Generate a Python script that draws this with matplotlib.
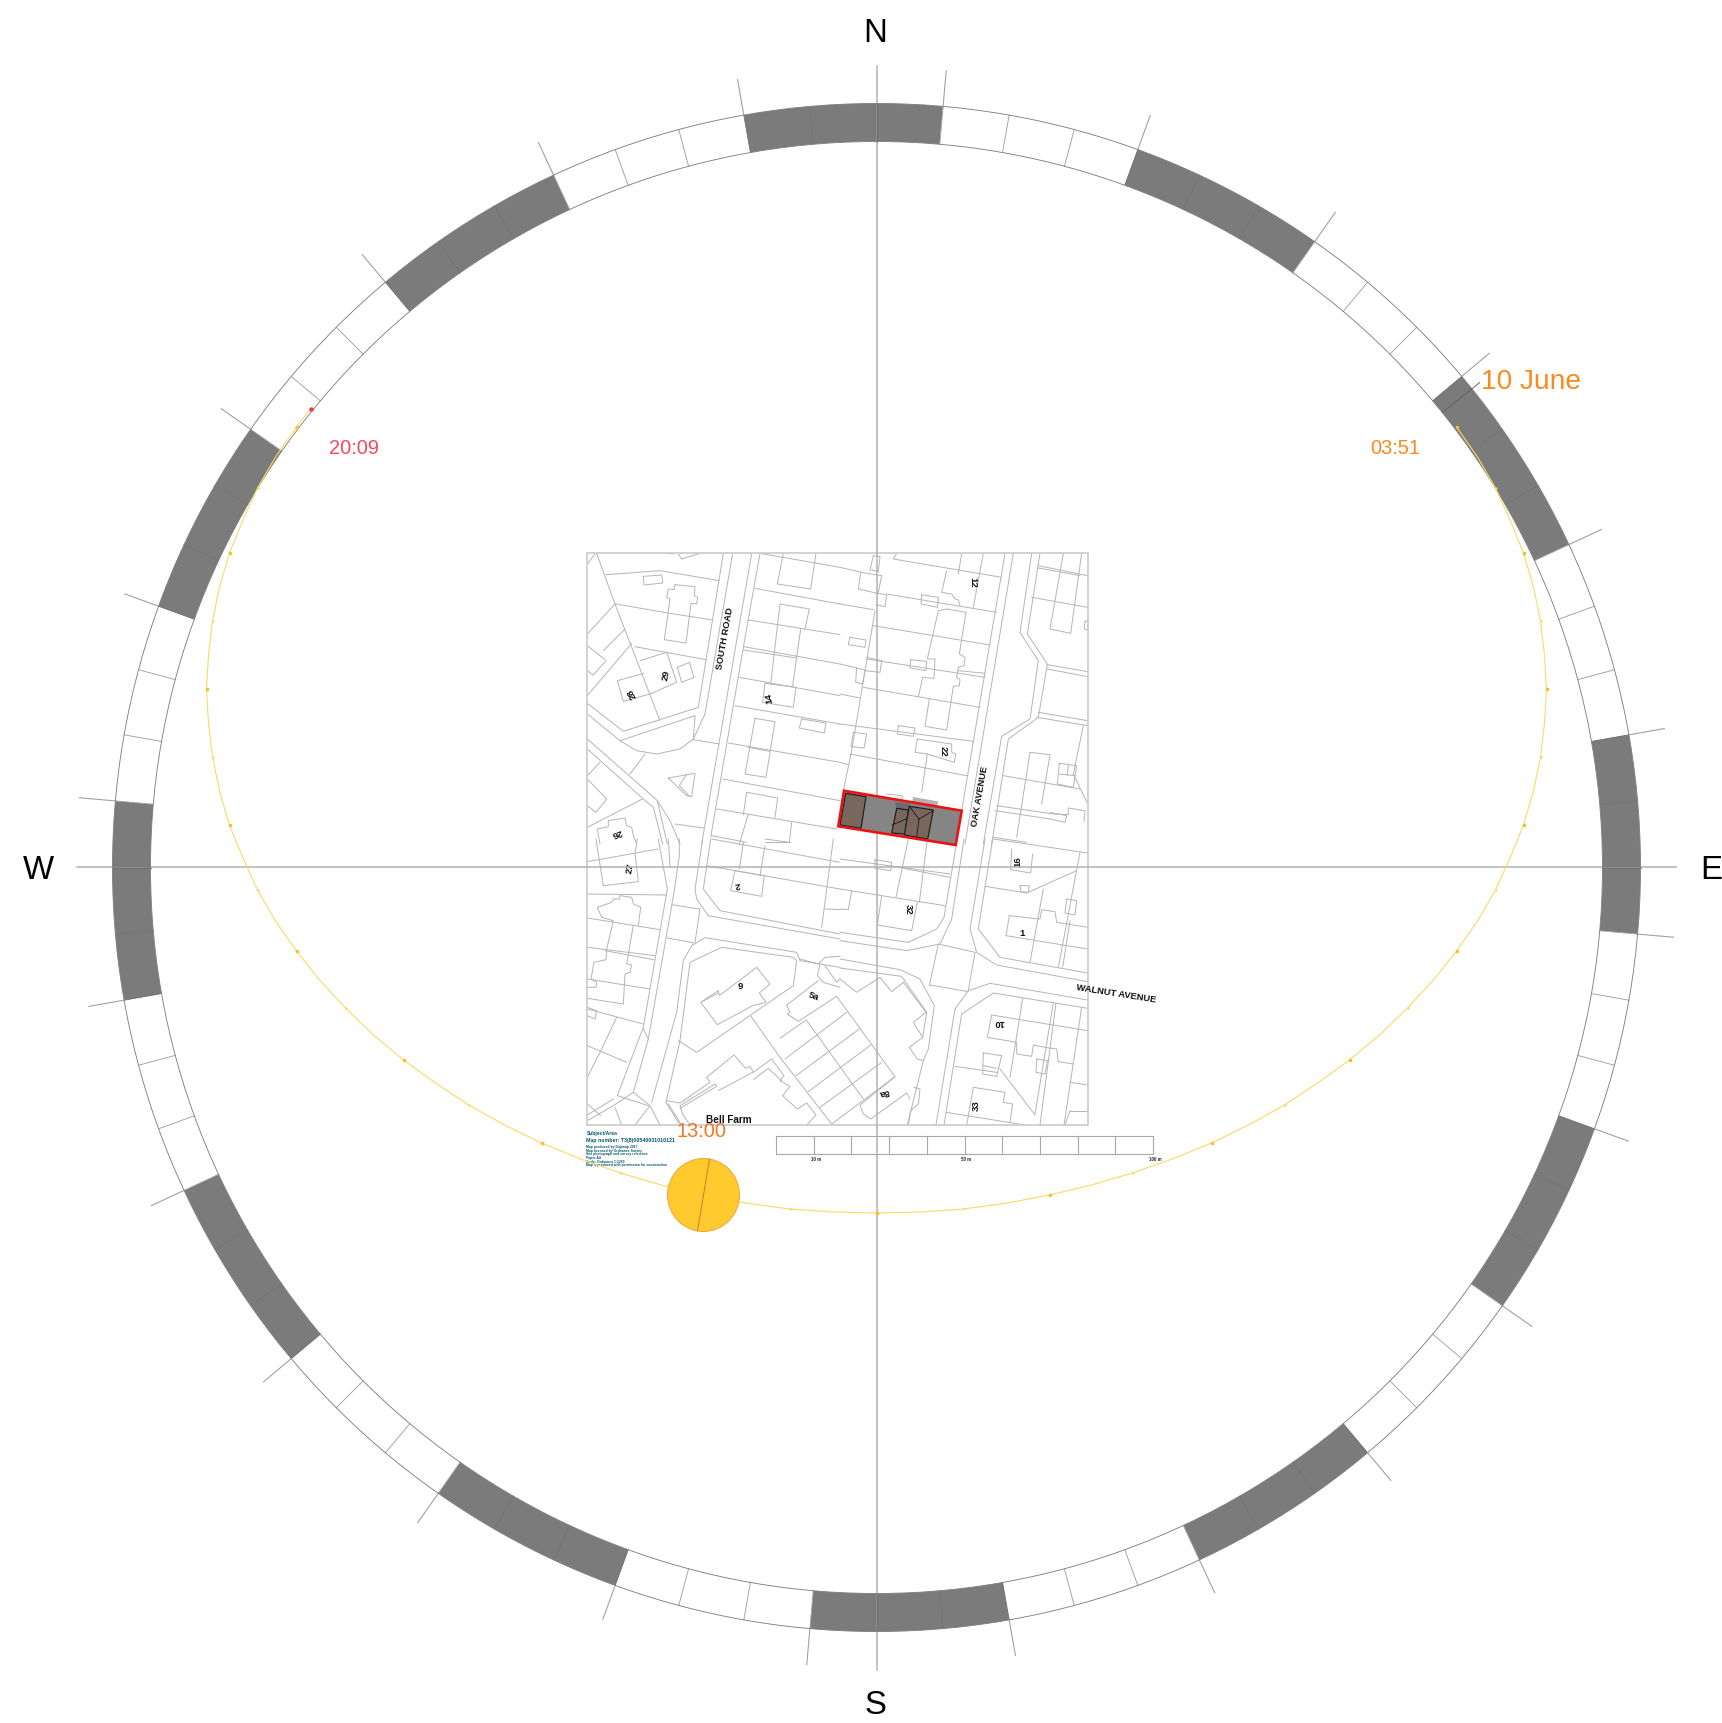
import matplotlib
matplotlib.use("Agg")
import numpy as np
import matplotlib.pyplot as plt
from matplotlib.patches import Wedge, Polygon, Ellipse, Rectangle
from matplotlib.collections import LineCollection

plt.rcParams['font.family'] = ['Liberation Sans', 'DejaVu Sans']

# ---- compass ring ----
ring_starts = [-10, 5, 20, 35, 50, 65, 80, 95, 110, 125, 140, 155, 170, 185, 200, 215,
               230, 245, 260, 275, 290, 305, 320, 335]
ring_dark = [1, 0, 1, 0, 1, 0, 1, 0, 1, 0, 1, 0, 1, 0, 1, 0, 1, 0, 1, 0, 1, 0, 1, 0]
ring_span = 15
ring_step = 5
compass_labels = ['N', 'E', 'S', 'W']

# ---- sun path: east / south offsets from the path centre, quarter-hour readings ----
sun_east = [580, 601, 619, 634, 647, 657, 664, 668, 670, 668, 664, 657, 647, 634, 619, 601,
            580, 557, 531, 503, 473, 441, 408, 372, 335, 296, 256, 215, 173, 131, 87, 44, 0,
            -44, -87, -131, -173, -215, -256, -296, -335, -372, -408, -441, -473, -503, -531, -557,
            -580, -601, -619, -634, -647, -657, -664, -668, -670, -668, -664, -657, -647, -634,
            -619, -601, -580, -566]
sun_south = [-262, -232, -201, -168, -136, -102, -68, -34, 0, 34, 68, 102, 136, 168, 201, 232,
             262, 291, 319, 346, 371, 394, 416, 436, 454, 470, 484, 496, 506, 514, 520, 523, 524,
             523, 520, 514, 506, 496, 484, 470, 454, 436, 416, 394, 371, 346, 319, 291,
             262, 232, 201, 168, 136, 102, 68, 34, 0, -34, -68, -102, -136, -168,
             -201, -232, -262, -280]
sun_now_index = 36
date_label = '10 June'
sunrise_label = '03:51'
sunset_label = '20:09'
now_label = '13:00'

# ---- site plan linework, traced (units: thirds of a pixel from each sheet's corner) ----
MAP_NW = [
 [(50,28),(105,180),(240,530)], [(22,60),(45,30)], [(78,92),(240,80),(418,110)],
 [(190,97),(245,93),(248,117),(192,123),(190,97)],
 [(285,122),(345,128),(343,155),(353,160),(350,180),(333,178),(318,297),(253,287),(270,165),(260,160),(265,135),(282,137),(285,122)],
 [(108,180),(270,208),(398,228)], [(22,270),(105,180)], [(22,305),(75,347)],
 [(70,320),(135,255)], [(22,380),(40,393),(78,350)], [(22,455),(155,298)],
 [(165,308),(378,347)], [(180,350),(260,325),(290,415),(210,450),(130,472),(112,410),(192,388)],
 [(292,370),(328,355),(342,400),(305,415),(292,370)],
 [(430,28),(355,490),(130,562),(22,478)],
 [(458,28),(375,510),(340,585),(300,615),(230,630),(170,620),(120,590),(345,515),(340,585)],
 [(22,510),(120,590)], [(340,587),(418,600)],
 [(515,28),(365,900)], [(540,28),(490,310),(392,880)],
 [(22,585),(210,750),(232,770),(270,830),(300,900)], [(22,615),(190,765),(220,790),(248,900)],
 [(232,770),(262,900)], [(150,690),(195,630)], [(22,695),(60,655)],
 [(22,705),(80,765),(48,805),(22,785)], [(22,850),(187,765)],
 [(265,702),(345,688),(335,758),(320,755),(265,702)], [(298,725),(320,690)], [(298,725),(330,758)],
 [(540,28),(780,70)], [(610,28),(592,120),(692,135),(708,28)], [(525,133),(780,180)],
 [(600,180),(688,195),(675,255)], [(600,180),(572,420)], [(662,255),(638,425)],
 [(505,228),(600,243),(780,272)], [(492,308),(780,360)], [(490,318),(650,342)],
 [(478,400),(780,455)], [(555,418),(648,430),(640,490),(548,475),(555,418)],
 [(465,485),(780,540)], [(665,525),(738,537),(733,567),(658,552),(665,525)],
 [(525,523),(585,533),(558,700),(495,690),(525,523)], [(505,610),(570,622)],
 [(445,597),(780,655)], [(428,705),(780,770)],
 [(500,745),(593,762),(585,820)], [(500,745),(490,812)], [(410,795),(770,855)],
 [(505,810),(478,900)], [(635,835),(628,895),(555,885)], [(395,875),(500,895)],
 [(285,840),(372,852)],
 [(52,855),(85,848),(85,830),(135,822),(140,845),(155,850),(160,875),(170,900)], [(52,855),(60,900)],
 [(295,30),(305,45),(360,28)], [(258,28),(280,30)],
]
MAP_NE = [
 [(170,28),(160,45),(485,100)], [(100,35),(120,38),(115,82),(90,78),(100,35)],
 [(62,85),(125,95),(115,145)], [(62,85),(55,135),(112,148)], [(0,70),(65,85)],
 [(112,148),(140,152),(135,188),(108,182)], [(0,180),(100,197)], [(140,150),(470,205)],
 [(245,152),(295,160),(293,190),(243,180),(245,152)], [(365,28),(355,90)], [(430,28),(400,190)],
 [(320,80),(305,145),(335,150),(345,165),(355,168),(360,185)],
 [(295,200),(262,345),(285,345),(282,403),(248,400),(235,458)], [(295,200),(320,195),(378,205)],
 [(378,205),(358,330),(375,340),(372,365),(355,370),(350,400),(360,407),(358,425),(340,427),(320,558),(255,547),(268,465)],
 [(100,245),(450,303)], [(30,280),(78,288),(75,310),(25,302),(30,280)],
 [(80,345),(435,400)], [(80,340),(125,350),(120,385),(75,380)], [(355,380),(435,388)], [(0,360),(50,372)],
 [(50,372),(75,378),(68,420),(47,415),(50,372)], [(212,347),(260,352),(258,380),(210,372),(212,347)],
 [(70,430),(420,490)], [(0,450),(60,462)], [(0,540),(400,592)],
 [(175,545),(225,552),(220,577),(172,570),(175,545)],
 [(232,585),(335,600),(335,625),(347,630),(343,655),(262,630),(225,625),(232,585)], [(262,630),(245,745)],
 [(40,565),(80,570),(72,612),(33,608),(40,565)], [(30,630),(380,695)], [(0,655),(25,662)],
 [(105,200),(35,620),(10,740)],
 [(495,28),(365,800)], [(520,28),(375,900)],
 [(575,28),(540,265),(595,350),(570,525),(485,577),(430,900)],
 [(600,28),(562,270),(622,360),(595,520),(505,585),(455,900)],
 [(595,65),(743,95)], [(595,72),(720,95)], [(670,28),(630,255),(692,268),(725,28)],
 [(575,160),(743,190)], [(735,232),(743,230),(743,258),(733,255),(735,232)],
 [(622,362),(743,383)], [(622,375),(743,398)], [(595,505),(743,530)], [(590,520),(743,545)],
 [(730,545),(700,690),(743,780)], [(490,695),(720,735)],
 [(570,625),(630,632),(605,780)], [(570,625),(530,880)],
 [(658,658),(710,665),(700,730),(652,720),(658,658)], [(685,660),(682,695)], [(658,690),(705,695)],
 [(470,785),(640,810),(685,812),(685,792),(735,800),(732,832)], [(465,800),(630,825)],
 [(630,805),(680,815),(675,835),(630,825)], [(460,880),(560,895)], [(140,750),(185,755),(188,765)],
]
MAP_SW = [
 [(235,0),(262,150),(190,565),(112,770),(205,800)], [(265,0),(270,85)],
 [(298,0),(298,50),(282,160),(205,600),(160,760),(100,800),(22,845)], [(190,570),(205,600)],
 [(22,828),(100,780)],
 [(368,0),(345,150),(350,180),(385,230),(780,300)], [(392,0),(370,150),(420,215),(780,285)],
 [(360,210),(345,310)], [(275,197),(358,210)], [(262,297),(343,312)],
 [(215,790),(290,520),(310,365),(335,320),(375,296),(650,340),(660,365),(780,385)],
 [(258,790),(300,605),(330,370),(425,325),(640,355),(650,365),(640,440),(350,640),(295,605)],
 [(240,858),(210,800)],
 [(48,0),(70,140),(175,128),(165,45),(172,0)], [(22,68),(235,30)], [(22,165),(260,168)],
 [(52,205),(95,190),(100,180),(118,180),(120,170),(155,175),(160,195),(182,205),(175,260)], [(52,205),(65,235),(100,245)],
 [(22,237),(240,272)], [(100,245),(80,330),(78,362),(42,370),(33,420),(50,430),(48,445),(22,445)],
 [(160,258),(140,375),(155,378),(150,400),(135,405),(130,495),(22,478)],
 [(22,325),(225,350)], [(75,335),(222,362)], [(22,420),(210,450)], [(22,510),(190,555)],
 [(22,505),(50,515),(45,540),(22,530)], [(110,535),(60,640),(22,715)], [(22,620),(140,670)],
 [(22,795),(62,830)], [(105,805),(125,858)], [(160,760),(210,800)], [(210,800),(165,858)],
 [(395,0),(780,70)], [(380,80),(780,150)], [(490,10),(478,90)], [(555,20),(540,110)],
 [(465,95),(553,110),(545,172),(452,155),(465,95)], [(760,0),(725,265)], [(735,210),(780,212)], [(555,10),(630,10)],
 [(530,385),(570,435),(538,462),(558,490),(518,500),(412,557),(362,490),(415,455),(418,470),(530,385)],
 [(368,487),(415,462)], [(513,532),(600,655)],
 [(380,715),(462,648),(497,688),(510,682),(520,700),(575,660),(612,710),(600,725),(630,742),(608,770),(652,810),(680,792),(708,828),(680,858)],
 [(380,715),(390,730),(300,792),(260,785)], [(300,808),(410,742),(405,735),(300,800),(310,830),(330,858)],
 [(520,722),(565,688),(605,725)], [(415,755),(518,700)], [(258,790),(300,858)], [(265,795),(305,858)],
 [(720,375),(712,410),(730,430),(780,445)], [(660,360),(715,375),(735,355),(780,352)],
 [(735,380),(770,430),(780,420)],
]
MAP_SE = [
 [(0,60),(330,105)], [(175,85),(330,115)], [(105,62),(155,70),(152,95),(105,88),(105,62)],
 [(205,0),(168,175)], [(262,0),(238,190)], [(0,150),(315,200)], [(35,155),(25,212),(0,210)],
 [(125,170),(112,258),(215,275),(232,190)],
 [(372,0),(335,240),(300,315),(200,335),(0,305)], [(350,10),(312,235),(290,270),(205,310),(0,280)],
 [(458,0),(415,270),(480,355),(743,402)], [(435,0),(390,270),(410,340),(470,378),(743,428)],
 [(435,142),(560,162),(710,95)], [(540,140),(568,140),(565,160),(543,158),(540,140)],
 [(515,30),(512,92),(572,102),(578,45)], [(460,0),(743,42)], [(720,40),(655,385)],
 [(680,180),(710,185),(705,228),(675,222),(680,180)], [(690,245),(668,385)],
 [(508,230),(600,240),(605,212),(645,218),(650,250),(743,265)], [(508,230),(498,290),(743,330)],
 [(610,150),(570,370)], [(295,315),(405,340)], [(270,438),(385,458)],
 [(295,315),(268,440)], [(250,665),(202,858)], [(405,340),(385,455)],
 [(260,520),(248,595),(208,625),(232,660),(250,665),(265,630),(283,500),(240,420),(180,392),(0,360)],
 [(0,387),(185,412),(260,520)], [(258,520),(220,550),(248,595)],
 [(190,430),(155,458),(120,415),(50,460),(0,420)], [(190,430),(258,520)],
 [(345,510),(385,455),(450,433),(743,483)], [(345,510),(288,858)],
 [(365,525),(460,462),(743,508)], [(365,525),(312,858)],
 [(548,478),(510,715)], [(640,492),(585,825)], [(648,492),(600,858)], [(725,505),(672,858)],
 [(455,528),(743,575)],
 [(455,528),(442,595),(530,610),(530,645),(575,652),(580,618),(615,625),(650,630),(655,668),(700,675)],
 [(430,642),(485,650),(470,712),(428,705),(430,642)], [(430,680),(470,688)], [(345,682),(470,700)],
 [(480,690),(585,828)], [(590,660),(622,665),(615,705),(588,700),(590,660)],
 [(400,745),(495,760),(490,790),(518,795),(510,850)], [(400,745),(380,858)],
 [(690,730),(743,738)], [(690,815),(743,815)], [(690,815),(675,858)], [(318,820),(555,858)],
 [(222,745),(240,750),(235,795),(212,815)], [(205,858),(212,815)],
]
MAP_TERRACE = [
 [(20,78),(115,5)], [(20,78),(30,100),(22,105),(55,127),(170,52)],
 [(170,52),(345,293),(240,378),(250,405),(272,420),(380,342),(390,360)],
 [(0,178),(75,125)], [(15,240),(200,100)], [(48,290),(238,150)], [(85,338),(272,198)],
 [(120,385),(305,250)], [(155,435),(345,293)], [(78,122),(250,360)], [(0,235),(155,435)],
]
SHEETS = [(MAP_NW, 580, 545), (MAP_NE, 840, 545), (MAP_SW, 580, 840), (MAP_SE, 840, 840),
          (MAP_TERRACE, 780, 980)]

# label, sheet, x, y, rotation (traced the same way)
map_labels = [
 ('12', 1, 398, 113, -90), ('22', 1, 310, 620, -90), ('14', 0, 567, 460, 100), ('29', 0, 258, 390, 80),
 ('28', 0, 155, 447, 120), ('26', 0, 110, 865, 200), ('27', 2, 150, 85, 80), ('2', 2, 473, 135, 190),
 ('9', 2, 480, 441, 0), ('5a', 2, 700, 468, -20), ('8a', 3, 132, 758, 190), ('32', 3, 205, 208, -90),
 ('16', 3, 535, 65, 90), ('1', 3, 547, 280, 0), ('10', 3, 476, 548, 180), ('33', 3, 410, 797, 90),
]
road_labels = [
 ('SOUTH ROAD', 0, 435, 280, 80), ('OAK AVENUE', 1, 420, 755, 80), ('WALNUT AVENUE', 3, 828, 463, -9),
]
scale_ticks_m = [0, 10, 20, 30, 40, 50, 60, 70, 80, 90, 100]
scale_labels = {10: '10 m', 50: '50 m', 100: '100 m'}
info_lines = ['Subject/Area', 'Map number: T3(8)00540031010121', 'Map produced by Digimap 2017',
              'Map licensed by Ordnance Survey', 'Site photograph and survey reference', 'Paper A4',
              'Scale: Ordnance 1:1250', 'Map reproduced with permission for construction']

# ---- figure ----
W, H = 1722, 1724
DPI = 100
px = 72 / DPI
fig = plt.figure(figsize=(W / DPI, H / DPI), dpi=DPI, facecolor='white')
ax = fig.add_axes([0, 0, 1, 1])
ax.set_xlim(0, W)
ax.set_ylim(H, 0)
ax.axis('off')
CX, CY = 876.5, 868.5
R_IN, R_OUT, R_TICK = 726, 764, 800
PATH_CY = 690


def polar(az, r):
    a = np.radians(az)
    return CX + r * np.sin(a), CY - r * np.cos(a)


def sheet_xy(sheet, x, y):
    _, ox, oy = SHEETS[sheet]
    return ox + x / 3, oy + y / 3


# site plan
segs = []
for lines, ox, oy in SHEETS:
    for ln in lines:
        segs.append([(ox + x / 3, oy + y / 3) for x, y in ln])
ax.add_collection(LineCollection(segs, colors='#b6b6b6', linewidths=1.0 * px, zorder=2, capstyle='round'))
ax.add_patch(Rectangle((587, 554), 501, 572, fill=False, ec='#cccccc', lw=1.7 * px, zorder=2))

for text, sheet, x, y, rot in map_labels:
    X, Y = sheet_xy(sheet, x, y)
    ax.text(X, Y, text, fontsize=9.5 * px, fontweight='bold', color='#111111', rotation=rot,
            ha='center', va='center', zorder=3)
for text, sheet, x, y, rot in road_labels:
    X, Y = sheet_xy(sheet, x, y)
    ax.text(X, Y, text, fontsize=9.4 * px, fontweight='bold', color='#111111', rotation=rot,
            rotation_mode='anchor', ha='center', va='center', zorder=3)
ax.text(729, 1120, 'Bell Farm', fontsize=10 * px, fontweight='bold', color='#111111', ha='center', va='center', zorder=3)

# scale bar
SB_X0, SB_X1, SB_Y0, SB_Y1 = 776, 1153, 1137, 1155
for m in scale_ticks_m:
    xm = SB_X0 + (SB_X1 - SB_X0) * m / 100
    ax.plot([xm, xm], [SB_Y0, SB_Y1], color='#a8a8a8', lw=1.1 * px, zorder=2)
    if m in scale_labels:
        ax.text(xm + 2, 1160, scale_labels[m], fontsize=4.5 * px, fontweight='bold', color='#222222',
                ha='center', va='center', zorder=3)
ax.plot([SB_X0, SB_X1], [SB_Y0, SB_Y0], color='#a8a8a8', lw=1.1 * px, zorder=2)
ax.plot([SB_X0, SB_X1], [SB_Y1, SB_Y1], color='#a8a8a8', lw=1.1 * px, zorder=2)

# info block
info_y = [1134, 1141, 1147, 1151, 1154.5, 1158, 1162, 1165.5]
info_size = [5, 5.3, 3.4, 3.4, 3.4, 3.4, 3.4, 3.4]
for s, y, fs in zip(info_lines, info_y, info_size):
    ax.text(586.5, y, s, fontsize=fs * px, fontweight='bold', color='#005770', ha='left', va='center', zorder=3)

# compass ring
for start, dark in zip(ring_starts, ring_dark):
    for k in range(0, ring_span, ring_step):
        a0 = start + k
        ax.add_patch(Wedge((CX, CY), R_OUT, a0 - 90, a0 + ring_step - 90, width=R_OUT - R_IN,
                           fc='#7b7b7b' if dark else 'white', ec='none', zorder=4))
        x0, y0 = polar(a0, R_IN)
        x1, y1 = polar(a0, R_OUT)
        ax.plot([x0, x1], [y0, y1], color='#6f6f6f' if dark else '#a0a0a0', lw=0.9 * px, zorder=5)
    x0, y0 = polar(start, R_OUT)
    x1, y1 = polar(start, R_TICK)
    ax.plot([x0, x1], [y0, y1], color='#a0a0a0', lw=1.1 * px, zorder=5)
for r in (R_IN, R_OUT):
    ax.add_patch(plt.Circle((CX, CY), r, fill=False, ec='#808080', lw=0.9 * px, zorder=5))
x0, y0 = polar(51.2, R_IN)
x1, y1 = polar(51.2, R_OUT + 10)
ax.plot([x0, x1], [y0, y1], color='#606060', lw=0.9 * px, zorder=5)

# cross axes
ax.plot([CX, CX], [67, 1671], color='#b0b0b0', lw=1.5 * px, zorder=3)
ax.plot([77, 1676], [CY - 0.5, CY - 0.5], color='#b0b0b0', lw=1.5 * px, zorder=3)

# site
site = [(844, 791.7), (961.7, 811.7), (955.7, 846), (838.3, 827.3)]
ax.add_patch(Polygon([(913, 798), (938.5, 802.5), (937, 807), (912, 803)], fc='#b2b2b2', ec='none', zorder=6))
ax.add_patch(Polygon(site, fc='#858585', ec='none', zorder=6))
ax.add_patch(Polygon([(895, 803), (910, 805), (908, 815), (897, 812)], fc='#6a6a6a', ec='none', zorder=6))
brown = '#77675c'
for poly in ([(845.7, 794.3), (866, 797.7), (861, 829.3), (840, 826)],
             [(896.7, 809.3), (908.3, 811), (905, 835), (891.7, 834)],
             [(909.3, 807.3), (933.3, 811), (927.7, 840), (904.3, 836)]):
    ax.add_patch(Polygon(poly, fc=brown, ec='#1e1e1e', lw=1.2 * px, zorder=7))
for a, b in (((909.3, 807.3), (919, 820)), ((933.3, 811.7), (919, 820)), ((919, 820), (916.7, 838)),
             ((892, 826), (906, 820))):
    ax.plot([a[0], b[0]], [a[1], b[1]], color='#1e1e1e', lw=0.9 * px, zorder=7)
ax.add_patch(Polygon(site, fill=False, ec='#ee1111', lw=2.6 * px, zorder=8))

# sun path
sx = [CX + v for v in sun_east]
sy = [PATH_CY + v for v in sun_south]
ax.plot(sx, sy, color='#FAD964', lw=1.1 * px, zorder=9)
ax.scatter(sx[:-1:4], sy[:-1:4], s=(3.6 * px) ** 2, color='#F6C02C', linewidths=0, zorder=10)
ax.scatter(sx[2::4], sy[2::4], s=(2.2 * px) ** 2, color='#F9D255', linewidths=0, zorder=10)
ax.scatter([sx[-1]], [sy[-1]], s=(4.5 * px) ** 2, color='#EE3B3B', linewidths=0, zorder=11)

# sun disc
sun_x, sun_y = sx[sun_now_index], sy[sun_now_index]
ax.add_patch(Ellipse((sun_x, sun_y), 72, 73, fc='#FFCA2E', ec='#F0A83C', lw=1 * px, zorder=12))
ax.plot([sun_x + 6, sun_x - 6], [sun_y - 36, sun_y + 36], color='#D8782A', lw=1 * px, zorder=13)

# texts
ax.text(701, 1132, now_label, fontsize=20 * px, color='#F0791F', ha='center', va='center', zorder=14)
ax.text(1531, 382, date_label, fontsize=28 * px, color='#F98A1E', ha='center', va='center', zorder=14)
ax.text(1395, 448.5, sunrise_label, fontsize=20 * px, color='#F98A1E', ha='center', va='center', zorder=14)
ax.text(354, 449, sunset_label, fontsize=20 * px, color='#F8485A', ha='center', va='center', zorder=14)
for s, (X, Y) in zip(compass_labels, [(875, 34), (1711, 871), (875, 1706), (38, 871)]):
    ax.text(X, Y, s, fontsize=33 * px, color='black', ha='center', va='center', zorder=14)

fig.savefig('out.png', dpi=DPI, facecolor='white')
